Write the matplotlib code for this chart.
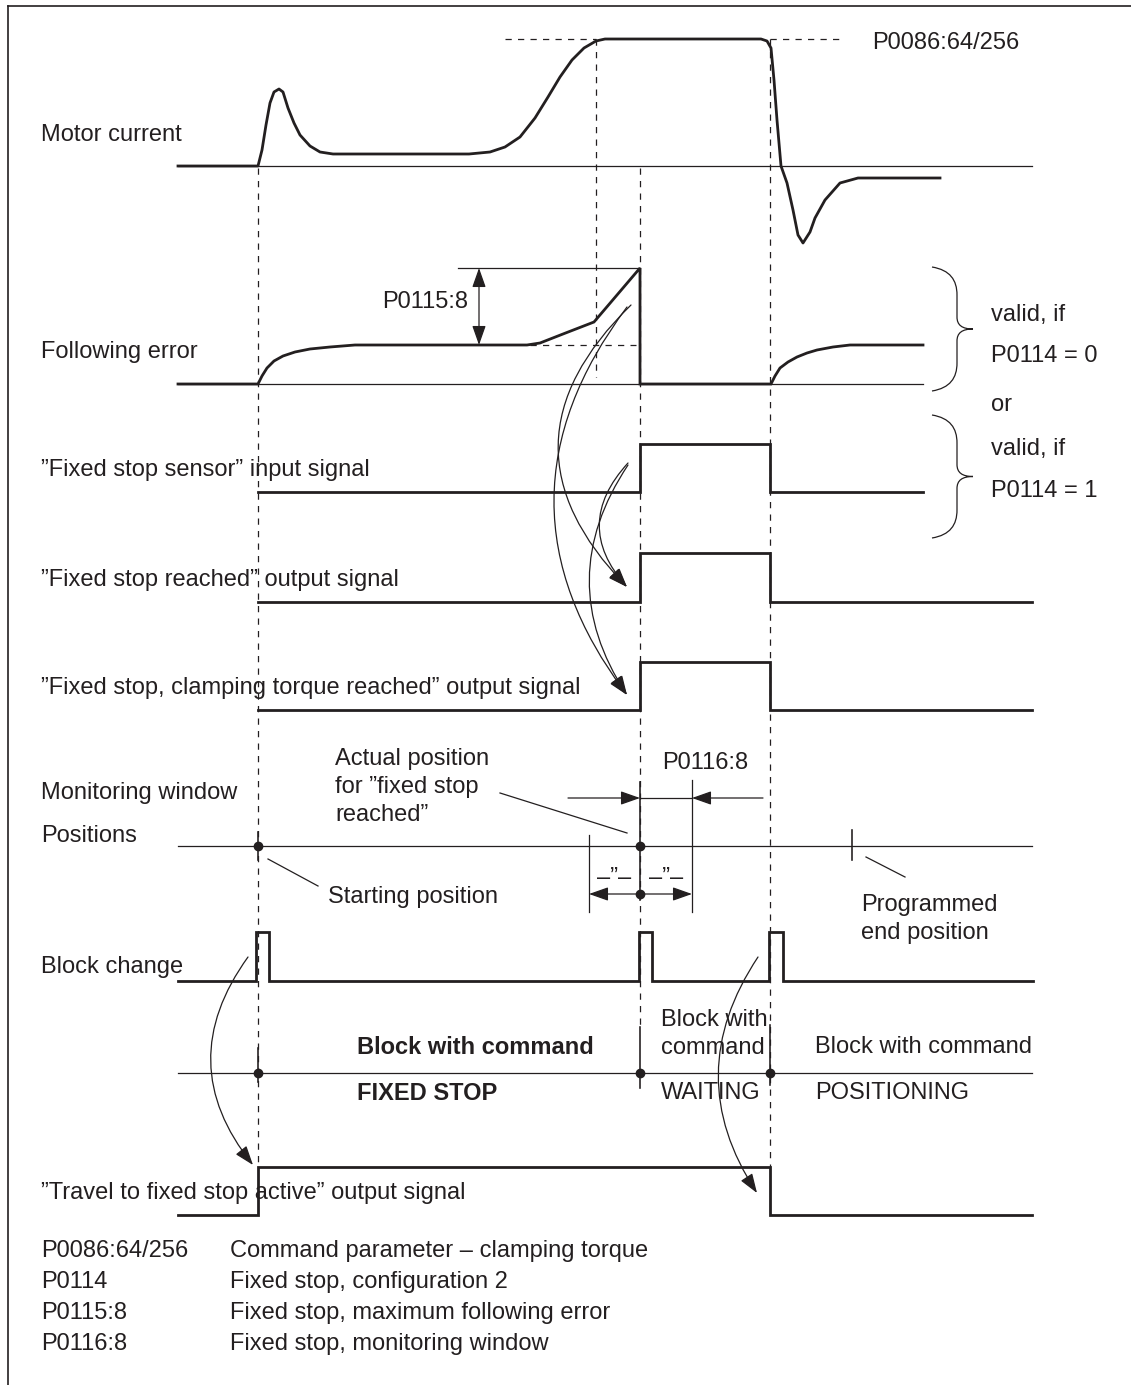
import matplotlib
matplotlib.use("Agg")
import matplotlib.pyplot as plt
from matplotlib.patches import FancyArrowPatch, PathPatch
from matplotlib.path import Path

plt.rcParams['font.family'] = ['Liberation Sans', 'DejaVu Sans']
INK = '#231f20'
FS = 17

# ---------------- data (time on x, level on y, drawing units) ----------------
t_start, t_limit, t_stop, t_release = 258, 596, 640, 770
t_end_pos = 852

current_x = [178, 258, 262, 266, 270, 274, 279, 283, 288, 294, 300, 310, 320, 333,
             469, 490, 505, 520, 535, 548, 560, 572, 584, 596, 605, 761, 767, 771,
             774, 777, 781, 787, 793, 798, 803, 810, 815, 825, 840, 858, 940]
current_y = [166, 166, 150, 125, 103, 92, 89, 92, 108, 123, 135, 146, 152, 154,
             154, 152, 147, 137, 118, 97, 77, 60, 48, 41, 39, 39, 41, 48,
             80, 120, 166, 183, 210, 235, 243, 232, 218, 200, 183, 178, 178]
current_base = 166
current_max = 39

ferr_x = [178, 258, 262, 267, 274, 283, 295, 310, 330, 355, 527, 540, 563, 594, 640, 640,
          771, 775, 780, 788, 797, 807, 817, 833, 850, 923]
ferr_y = [384, 384, 376, 368, 361, 356, 352, 349, 347, 345, 345, 343, 334, 322, 268, 384,
          384, 376, 368, 362, 357, 353, 350, 347, 345, 345]
ferr_base = 384
ferr_plateau = 345
ferr_peak = 268

# digital signals: edges and states
sensor_edges = [258, 640, 770, 923]
sensor_states = [0, 1, 0, 0]
reached_edges = [258, 640, 770, 1032]
reached_states = [0, 1, 0, 0]
clamp_edges = [258, 640, 770, 1032]
clamp_states = [0, 1, 0, 0]
block_edges = [178, 256, 269, 639, 652, 769, 783, 1033]
block_states = [0, 1, 0, 1, 0, 1, 0, 0]
travel_edges = [178, 258, 770, 1032]
travel_states = [0, 1, 0, 0]

# row levels (low, high)
sensor_lv = (492, 444)
reached_lv = (602, 553)
clamp_lv = (710, 662)
block_lv = (981, 932)
travel_lv = (1215, 1167)
positions_y = 846
command_y = 1073

row_labels = ['Motor current', 'Following error', '”Fixed stop sensor” input signal',
              '”Fixed stop reached” output signal',
              '”Fixed stop, clamping torque reached” output signal',
              'Monitoring window', 'Positions', 'Block change',
              '”Travel to fixed stop active” output signal']
row_label_y = [135, 352, 470, 580, 688, 793, 836, 967, 1193]

param_names = ['P0086:64/256', 'P0114', 'P0115:8', 'P0116:8']
param_desc = ['Command parameter – clamping torque', 'Fixed stop, configuration 2',
              'Fixed stop, maximum following error', 'Fixed stop, monitoring window']
legend_y = [1251, 1282, 1313, 1344]

# ---------------- figure ----------------
fig = plt.figure(figsize=(11.31, 13.85), dpi=100)
ax = fig.add_axes([0, 0, 1, 1])
ax.set_xlim(0, 1131)
ax.set_ylim(1385, 0)
ax.axis('off')

THICK = 2.0
THIN = 0.9
DASH = (0, (5, 5))

# frame (top and left)
ax.plot([8, 1131], [6, 6], color=INK, lw=1.2)
ax.plot([8, 8], [6, 1385], color=INK, lw=1.2)

# baselines
ax.plot([178, 1032], [current_base, current_base], color=INK, lw=THIN)
ax.plot([178, 923], [ferr_base, ferr_base], color=INK, lw=THIN)
ax.plot([178, 1032], [positions_y, positions_y], color=INK, lw=THIN)
ax.plot([178, 1032], [command_y, command_y], color=INK, lw=THIN)

# dashed verticals
for x, y0, y1 in [(t_start, 168, 1165), (t_limit, current_max, 377),
                  (t_stop, 168, 1027), (t_release, current_max, 1167)]:
    ax.plot([x, x], [y0, y1], color=INK, lw=THIN, linestyle=DASH)

# motor current
ax.plot(current_x, current_y, color=INK, lw=THICK, solid_joinstyle='round')
ax.plot([505, t_limit], [current_max, current_max], color=INK, lw=THIN, linestyle=DASH)
ax.plot([t_release, 844], [current_max, current_max], color=INK, lw=THIN, linestyle=DASH)
ax.text(872, 43, 'P0086:64/256', fontsize=FS, color=INK, va='center', ha='left')

# following error
ax.plot(ferr_x, ferr_y, color=INK, lw=THICK, solid_joinstyle='miter')
ax.plot([458, t_stop], [ferr_peak, ferr_peak], color=INK, lw=THIN)
ax.plot([530, 636], [ferr_plateau, ferr_plateau], color=INK, lw=THIN, linestyle=DASH)
ax.annotate('', xy=(479, ferr_peak), xytext=(479, ferr_plateau),
            arrowprops=dict(arrowstyle='<|-|>,head_length=0.85,head_width=0.3',
                            mutation_scale=14, color=INK, lw=THIN,
                            shrinkA=0, shrinkB=0))
ax.text(468, 302, 'P0115:8', fontsize=FS, color=INK, va='center', ha='right')


def step(edges, states, lv):
    low, high = lv
    ys = [low - s * (low - high) for s in states]
    ax.plot(edges, ys, drawstyle='steps-post', color=INK, lw=THICK,
            solid_joinstyle='miter')


step(sensor_edges, sensor_states, sensor_lv)
step(reached_edges, reached_states, reached_lv)
step(clamp_edges, clamp_states, clamp_lv)
step(block_edges, block_states, block_lv)
step(travel_edges, travel_states, travel_lv)

# row labels
for lab, y in zip(row_labels, row_label_y):
    ax.text(41, y, lab, fontsize=FS, color=INK, va='center', ha='left')

# braces
def brace(y0, y1, x0=932, x1=957, tip=973):
    ym = (y0 + y1) / 2
    verts = [(x0, y0), (x0 + 18, y0 + 3), (x1, y0 + 13), (x1, y0 + 28),
             (x1, ym - 12),
             (x1, ym - 4), (x1 + 5, ym), (tip, ym),
             (x1 + 5, ym), (x1, ym + 4), (x1, ym + 12),
             (x1, y1 - 28),
             (x1, y1 - 13), (x0 + 18, y1 - 3), (x0, y1)]
    codes = [Path.MOVETO, Path.CURVE4, Path.CURVE4, Path.CURVE4,
             Path.LINETO,
             Path.CURVE4, Path.CURVE4, Path.CURVE4,
             Path.CURVE4, Path.CURVE4, Path.CURVE4,
             Path.LINETO,
             Path.CURVE4, Path.CURVE4, Path.CURVE4]
    ax.add_patch(PathPatch(Path(verts, codes), fill=False, edgecolor=INK, lw=THIN))


brace(267, 391)
brace(415, 538)
for txt, y in zip(['valid, if', 'P0114 = 0', 'or', 'valid, if', 'P0114 = 1'],
                  [315, 356, 405, 449, 491]):
    ax.text(991, y, txt, fontsize=FS, color=INK, va='center', ha='left')

# curved arrows
def carrow(p0, p1, rad):
    ax.add_patch(FancyArrowPatch(p0, p1, connectionstyle=f'arc3,rad={rad}',
                                 arrowstyle='-|>,head_length=0.85,head_width=0.3',
                                 mutation_scale=14, color=INK, lw=THIN,
                                 shrinkA=0, shrinkB=0))


carrow((631, 305), (627, 587), 0.50)
carrow((627, 307), (627, 695), 0.375)
carrow((628, 463), (627, 587), 0.45)
carrow((628, 465), (627, 695), 0.33)
carrow((248, 957), (253, 1165), 0.38)
carrow((758, 957), (757, 1193), 0.33)

# positions row
ax.plot([t_start, t_stop], [positions_y, positions_y], 'o', color=INK, ms=6)
ax.plot([t_start, t_start], [832, 860], color=INK, lw=THIN * 1.3)
ax.plot([t_end_pos, t_end_pos], [830, 860], color=INK, lw=THIN * 1.3)
ax.plot([500, 627], [793, 833], color=INK, lw=THIN)
ax.plot([268, 318], [859, 886], color=INK, lw=THIN)
ax.plot([866, 905], [857, 877], color=INK, lw=THIN)
for txt, y in zip(['Actual position', 'for ”fixed stop', 'reached”'], [759, 787, 815]):
    ax.text(335, y, txt, fontsize=FS, color=INK, va='center', ha='left')
ax.text(328, 897, 'Starting position', fontsize=FS, color=INK, va='center', ha='left')
ax.text(861, 905, 'Programmed', fontsize=FS, color=INK, va='center', ha='left')
ax.text(861, 933, 'end position', fontsize=FS, color=INK, va='center', ha='left')

# monitoring window
win_l, win_r = 589, 692
ax.plot([t_stop, t_stop], [782, 900], color=INK, lw=THIN * 1.3)
ax.plot([win_r, win_r], [780, 912], color=INK, lw=THIN)
ax.plot([win_l, win_l], [835, 912], color=INK, lw=THIN)
ax.plot([t_stop, win_r], [798, 798], color=INK, lw=THIN)
arr = dict(arrowstyle='-|>,head_length=0.85,head_width=0.3', mutation_scale=14,
           color=INK, lw=THIN, shrinkA=0, shrinkB=0)
ax.annotate('', xy=(t_stop, 798), xytext=(568, 798), arrowprops=arr)
ax.annotate('', xy=(win_r, 798), xytext=(763, 798), arrowprops=arr)
ax.annotate('', xy=(win_l, 894), xytext=(t_stop, 894), arrowprops=arr)
ax.annotate('', xy=(win_r, 894), xytext=(t_stop, 894), arrowprops=arr)
ax.plot([t_stop], [894], 'o', color=INK, ms=6)
ax.text(705, 763, 'P0116:8', fontsize=FS, color=INK, va='center', ha='center')
ax.text((win_l + t_stop) / 2, 878, '–”–', fontsize=FS, color=INK, va='center', ha='center')
ax.text((win_r + t_stop) / 2, 878, '–”–', fontsize=FS, color=INK, va='center', ha='center')

# block command row
ax.plot([t_start, t_stop, t_release], [command_y] * 3, 'o', color=INK, ms=6)
ax.plot([t_start, t_start], [1048, 1082], color=INK, lw=THIN * 1.3)
ax.plot([t_stop, t_stop], [1027, 1088], color=INK, lw=THIN * 1.3)
ax.plot([t_release, t_release], [1025, 1085], color=INK, lw=THIN * 1.3)
ax.text(357, 1047, 'Block with command', fontsize=FS, color=INK, va='center',
        ha='left', fontweight='bold')
ax.text(357, 1093, 'FIXED STOP', fontsize=FS, color=INK, va='center', ha='left',
        fontweight='bold')
ax.text(661, 1020, 'Block with', fontsize=FS, color=INK, va='center', ha='left')
ax.text(661, 1048, 'command', fontsize=FS, color=INK, va='center', ha='left')
ax.text(661, 1093, 'WAITING', fontsize=FS, color=INK, va='center', ha='left')
ax.text(815, 1047, 'Block with command', fontsize=FS, color=INK, va='center', ha='left')
ax.text(815, 1093, 'POSITIONING', fontsize=FS, color=INK, va='center', ha='left')

# legend
for n, d, y in zip(param_names, param_desc, legend_y):
    ax.text(41, y, n, fontsize=FS, color=INK, va='center', ha='left')
    ax.text(230, y, d, fontsize=FS, color=INK, va='center', ha='left')

fig.savefig('out.png', dpi=100)
